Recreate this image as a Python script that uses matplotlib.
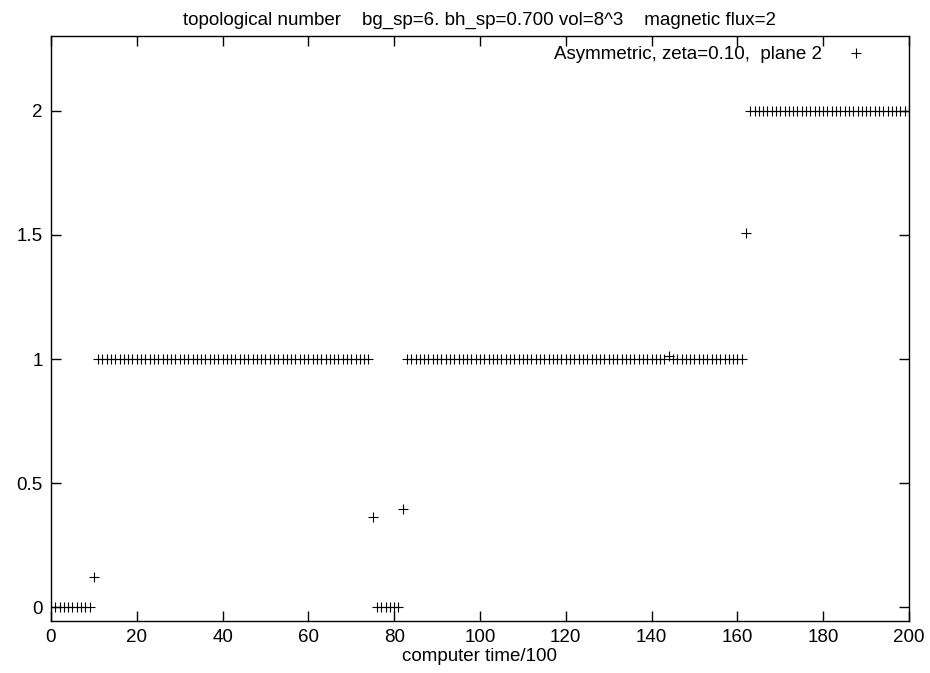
import numpy as np
import matplotlib
matplotlib.use("Agg")
import matplotlib.pyplot as plt

plt.rcParams['font.family'] = ['Liberation Sans', 'DejaVu Sans']

# computer time/100 and topological number
t_zero1 = [1, 2, 3, 4, 5, 6, 7, 8, 9]
q_zero1 = [0.0] * 9
t_mid = [10, 75, 82, 144, 162]
q_mid = [0.12, 0.365, 0.395, 1.012, 1.508]
t_one1 = list(range(11, 75))
q_one1 = [1.0] * len(t_one1)
t_zero2 = [76, 77, 78, 79, 80, 81]
q_zero2 = [0.0] * 6
t_one2 = [t for t in range(83, 162) if t != 144]
q_one2 = [1.0] * len(t_one2)
t_two = list(range(163, 201))
q_two = [2.0] * len(t_two)

t = np.array(t_zero1 + t_mid + t_one1 + t_zero2 + t_one2 + t_two)
q = np.array(q_zero1 + q_mid + q_one1 + q_zero2 + q_one2 + q_two)
order = np.argsort(t)
t, q = t[order], q[order]

fs = 13.5
fig = plt.figure(figsize=(9.3, 6.73), dpi=100)
ax = fig.add_axes([0.0548, 0.0773, 0.9226, 0.8692])

ax.plot(t, q, linestyle='none', marker='+', color='black', markersize=7,
        markeredgewidth=0.8, label='Asymmetric, zeta=0.10,  plane 2')

ax.set_xlim(0, 200)
ax.set_ylim(-0.056, 2.302)
ax.set_xticks(np.arange(0, 201, 20))
ax.set_yticks([0, 0.5, 1, 1.5, 2])
ax.set_yticklabels(['0', '0.5', '1', '1.5', '2'])
ax.tick_params(direction='in', top=True, right=True, length=7, width=1,
               labelsize=fs, pad=6)
for s in ax.spines.values():
    s.set_linewidth(1)

ax.set_title('topological number    bg_sp=6. bh_sp=0.700 vol=8^3    magnetic flux=2',
             fontsize=fs, pad=8)
ax.set_xlabel('computer time/100', fontsize=fs, labelpad=1)

leg = ax.legend(loc='upper right', frameon=False, fontsize=fs, markerfirst=False,
                handlelength=4.55, handletextpad=-0.45, borderaxespad=0.25,
                borderpad=0.3)

fig.savefig('out.png', dpi=100)
